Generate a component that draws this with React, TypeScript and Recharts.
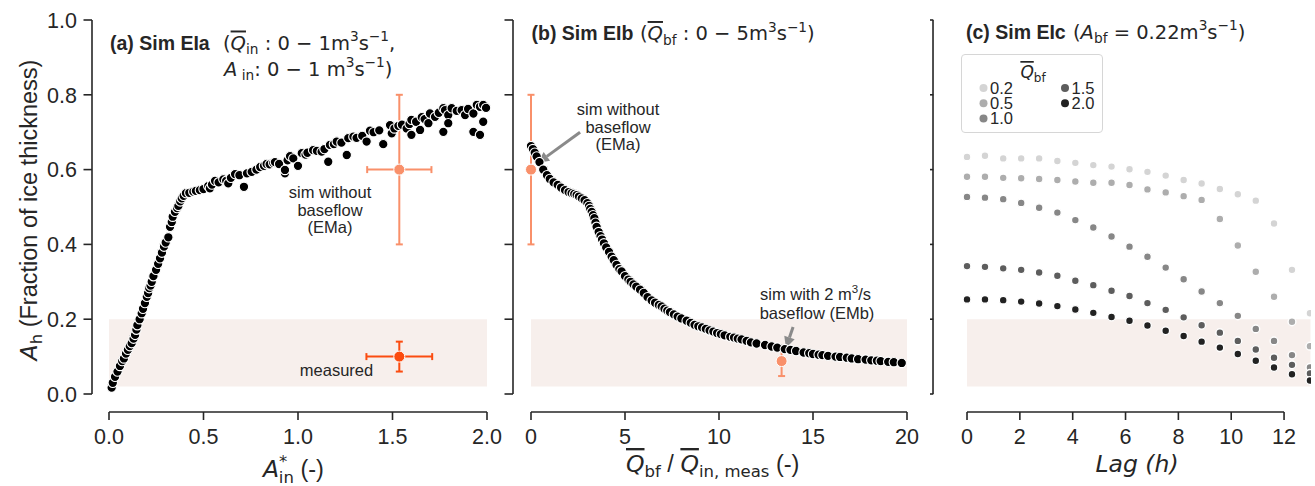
import React from 'react';
import {ScatterChart, Scatter, XAxis, YAxis, ReferenceArea, ReferenceLine, ErrorBar, Legend} from 'recharts';

const INK = '#262626';
const SANS = '"Liberation Sans", Arial, Helvetica, sans-serif';
const MATH = '"DejaVu Sans", sans-serif';
const BAND = '#f7efec';
const SALMON = '#f9906a';
const MEASURED = '#fb4c10';
const ARROW = '#8a8a8a';

const PLOT_TOP = 20;
const SPINE_Y = 412;
const X_AXIS_H = 92;

// shared y axis
const yTicks = [0, 0.2, 0.4, 0.6, 0.8, 1.0];
const spineYData = -18 / 374;

// (a) Sim EIa : A*_in vs A_h
const aTicks = [0, 0.5, 1.0, 1.5, 2.0];
const eiaCurve: [number, number][] = [
  [0.014, 0.017], [0.02, 0.03], [0.032, 0.046], [0.045, 0.06], [0.058, 0.075], [0.07, 0.088],
  [0.079, 0.095], [0.09, 0.108], [0.1, 0.118], [0.11, 0.128], [0.12, 0.136], [0.13, 0.148],
  [0.138, 0.158], [0.145, 0.172], [0.15, 0.184], [0.162, 0.2], [0.173, 0.216], [0.18, 0.228],
  [0.19, 0.243], [0.2, 0.26], [0.207, 0.27], [0.213, 0.283], [0.22, 0.29], [0.226, 0.3],
  [0.235, 0.315], [0.249, 0.332], [0.26, 0.348], [0.27, 0.363], [0.28, 0.378], [0.291, 0.394],
  [0.3, 0.405], [0.314, 0.419], [0.323, 0.447], [0.332, 0.46], [0.337, 0.474], [0.349, 0.487],
  [0.36, 0.497], [0.367, 0.503], [0.377, 0.515], [0.385, 0.523], [0.395, 0.53], [0.407, 0.537],
  [0.425, 0.538], [0.446, 0.541], [0.46, 0.543], [0.481, 0.545], [0.5, 0.548], [0.525, 0.556],
  [0.534, 0.55], [0.545, 0.56], [0.561, 0.57], [0.58, 0.566], [0.605, 0.574], [0.62, 0.57],
  [0.631, 0.563], [0.645, 0.578], [0.667, 0.588], [0.69, 0.585], [0.714, 0.554], [0.73, 0.59],
  [0.755, 0.594], [0.78, 0.6], [0.8, 0.607], [0.82, 0.61], [0.834, 0.615], [0.85, 0.614],
  [0.869, 0.618], [0.878, 0.62], [0.9, 0.615], [0.931, 0.59], [0.931, 0.599], [0.945, 0.625],
  [0.958, 0.636], [0.975, 0.63], [1.0, 0.61], [1.02, 0.644], [1.04, 0.64], [1.05, 0.645],
  [1.08, 0.652], [1.1, 0.65], [1.125, 0.648], [1.14, 0.655], [1.16, 0.621], [1.169, 0.666],
  [1.19, 0.668], [1.205, 0.675], [1.23, 0.672], [1.258, 0.639], [1.266, 0.684], [1.293, 0.688],
  [1.31, 0.685], [1.34, 0.69], [1.363, 0.675], [1.381, 0.704], [1.4, 0.7], [1.43, 0.705],
  [1.451, 0.668], [1.487, 0.719], [1.496, 0.697], [1.51, 0.71], [1.531, 0.717], [1.55, 0.72],
  [1.575, 0.71], [1.59, 0.722], [1.6, 0.733], [1.6, 0.693], [1.625, 0.728], [1.646, 0.706],
  [1.655, 0.74], [1.67, 0.735], [1.69, 0.724], [1.698, 0.75], [1.725, 0.741], [1.745, 0.752],
  [1.769, 0.764], [1.769, 0.701], [1.778, 0.759], [1.795, 0.746], [1.795, 0.724], [1.813, 0.764],
  [1.84, 0.757], [1.866, 0.759], [1.884, 0.746], [1.9, 0.762], [1.928, 0.75], [1.928, 0.701],
  [1.946, 0.773], [1.963, 0.768], [1.963, 0.693], [1.98, 0.728], [1.98, 0.773], [1.995, 0.765],
];
const emaInA = [{x: 1.536, y: 0.6, ex: 0.17, ey: 0.2}];
const measuredInA = [{x: 1.536, y: 0.1, ex: 0.174, ey: 0.04}];

// (b) Sim EIb : Qbf / Qin,meas vs A_h
const bTicks = [0, 5, 10, 15, 20];
const eibCurve: [number, number][] = [
  [0.0, 0.663], [0.1, 0.655], [0.2, 0.645], [0.3, 0.635], [0.45, 0.62], [0.65, 0.6],
  [0.85, 0.585], [1.0, 0.575], [1.2, 0.566], [1.42, 0.559], [1.6, 0.552], [1.81, 0.545],
  [2.0, 0.54], [2.16, 0.537], [2.3, 0.535], [2.43, 0.532], [2.55, 0.528], [2.7, 0.523],
  [2.85, 0.518], [3.0, 0.51], [3.09, 0.503], [3.15, 0.495], [3.23, 0.487], [3.3, 0.478],
  [3.37, 0.47], [3.43, 0.458], [3.49, 0.447], [3.6, 0.433], [3.7, 0.422], [3.78, 0.413],
  [3.88, 0.403], [4.0, 0.392], [4.15, 0.38], [4.29, 0.367], [4.4, 0.358], [4.55, 0.345],
  [4.7, 0.334], [4.82, 0.328], [5.0, 0.315], [5.18, 0.306], [5.3, 0.3], [5.45, 0.293],
  [5.6, 0.287], [5.8, 0.279], [6.0, 0.27], [6.2, 0.259], [6.42, 0.25], [6.6, 0.244],
  [6.8, 0.238], [6.95, 0.234], [7.1, 0.228], [7.25, 0.223], [7.39, 0.219], [7.6, 0.213],
  [7.8, 0.207], [8.0, 0.202], [8.28, 0.196], [8.5, 0.19], [8.7, 0.185], [8.9, 0.181],
  [9.1, 0.178], [9.3, 0.174], [9.5, 0.17], [9.7, 0.167], [9.9, 0.163], [10.1, 0.16],
  [10.3, 0.157], [10.6, 0.153], [10.8, 0.151], [11.0, 0.148], [11.2, 0.146], [11.47, 0.142],
  [11.7, 0.138], [12.0, 0.135], [12.45, 0.131], [12.8, 0.127], [13.1, 0.124], [13.5, 0.12],
  [13.8, 0.118], [14.1, 0.115], [14.5, 0.111], [14.8, 0.109], [15.0, 0.107], [15.3, 0.105],
  [15.5, 0.104], [15.8, 0.102], [16.2, 0.1], [16.44, 0.099], [16.8, 0.097], [17.06, 0.095],
  [17.4, 0.093], [17.8, 0.092], [18.1, 0.09], [18.4, 0.089], [18.6, 0.088], [19.0, 0.086],
  [19.3, 0.085], [19.72, 0.083],
];
const emaInB = [{x: 0, y: 0.6, ey: 0.2}];
const embInB = [{x: 13.33, y: 0.088, ey: 0.04}];

// (c) Sim EIc : lag vs A_h for several baseflows
const cTicks = [0, 2, 4, 6, 8, 10, 12];
const lagH = [0, 0.68, 1.37, 2.05, 2.73, 3.42, 4.1, 4.78, 5.47, 6.15, 6.83, 7.52, 8.2, 8.88, 9.57, 10.25, 10.93, 11.62, 12.3, 12.98];
const qbfLevels = ['0.2', '0.5', '1.0', '1.5', '2.0'];
const qbfColors = ['#d4d4d4', '#adadad', '#878787', '#5d5d5d', '#222222'];
const qbf02 = [0.634, 0.637, 0.63, 0.63, 0.63, 0.623, 0.618, 0.612, 0.608, 0.601, 0.594, 0.584, 0.572, 0.563, 0.548, 0.534, 0.517, 0.456, 0.332, 0.216];
const qbf05 = [0.581, 0.581, 0.578, 0.577, 0.575, 0.572, 0.568, 0.565, 0.565, 0.559, 0.547, 0.539, 0.529, 0.519, 0.468, 0.397, 0.327, 0.26, 0.193, 0.128];
const qbf10 = [0.527, 0.525, 0.521, 0.511, 0.498, 0.485, 0.465, 0.445, 0.421, 0.394, 0.367, 0.338, 0.307, 0.274, 0.243, 0.209, 0.174, 0.142, 0.104, 0.071];
const qbf15 = [0.342, 0.34, 0.336, 0.332, 0.325, 0.316, 0.303, 0.291, 0.276, 0.262, 0.243, 0.225, 0.205, 0.184, 0.164, 0.142, 0.119, 0.097, 0.078, 0.055];
const qbf20 = [0.253, 0.253, 0.251, 0.247, 0.242, 0.235, 0.226, 0.217, 0.206, 0.196, 0.183, 0.169, 0.155, 0.14, 0.124, 0.107, 0.089, 0.071, 0.053, 0.036];
const qbfSeries = [qbf02, qbf05, qbf10, qbf15, qbf20];

const toPts = (c: [number, number][]) => c.map(([x, y]) => ({x, y}));

const dot = (r: number, fill: string, sw: number) => (p: any) => (
  <circle cx={p.cx} cy={p.cy} r={r} fill={fill} stroke="#fff" strokeWidth={sw}/>
);

const xTick = (fmt: (v: number) => string) => (p: any) => (
  <g>
    <line x1={p.x} x2={p.x} y1={SPINE_Y} y2={SPINE_Y + 8} stroke={INK} strokeWidth={1.6}/>
    <text x={p.x} y={444} textAnchor="middle" fontSize={21.5} fontFamily={SANS} fill={INK}>
      {fmt(p.payload.value)}
    </text>
  </g>
);

const yTick = (spineX: number, labels: boolean) => (p: any) => (
  <g>
    <line x1={spineX - 8.5} x2={spineX} y1={p.y} y2={p.y} stroke={INK} strokeWidth={1.6}/>
    {labels && (
      <text x={spineX - 15} y={p.y} dy="0.36em" textAnchor="end" fontSize={21.5} fontFamily={SANS} fill={INK}>
        {p.payload.value.toFixed(1)}
      </text>
    )}
  </g>
);

const arrow = (p: any) => {
  const {x1, y1, x2, y2} = p;
  const dx = x2 - x1, dy = y2 - y1;
  const len = Math.hypot(dx, dy) || 1;
  const ux = dx / len, uy = dy / len;
  const hl = 11, hw = 5.5;
  const bx = x2 - ux * hl, by = y2 - uy * hl;
  return (
    <g>
      <line x1={x1} y1={y1} x2={bx} y2={by} stroke={ARROW} strokeWidth={3}/>
      <polygon points={`${x2},${y2} ${bx - uy * hw},${by + ux * hw} ${bx + uy * hw},${by - ux * hw}`} fill={ARROW}/>
    </g>
  );
};

const spineProps = {stroke: INK, strokeWidth: 1.6, ifOverflow: 'visible' as const};

function PanelA() {
  const ySpine = -17 / 189;
  return (
    <ScatterChart width={525} height={486} margin={{top: PLOT_TOP, right: 38, bottom: 0, left: 0}}>
      <XAxis type="number" dataKey="x" domain={[0, 2]} ticks={aTicks} interval={0} axisLine={false} tickLine={false}
             height={X_AXIS_H} tick={xTick((v) => v.toFixed(1))}/>
      <YAxis type="number" dataKey="y" domain={[0, 1]} ticks={yTicks} interval={0} axisLine={false} tickLine={false}
             width={109} tick={yTick(92, true)}/>
      <ReferenceArea x1={0} x2={2} y1={0.02} y2={0.2} fill={BAND} fillOpacity={1} stroke="none"/>
      <ReferenceLine segment={[{x: ySpine, y: 0}, {x: ySpine, y: 1}]} {...spineProps}/>
      <ReferenceLine segment={[{x: 0, y: spineYData}, {x: 2, y: spineYData}]} {...spineProps}/>
      <Scatter data={toPts(eiaCurve)} fill="#000" isAnimationActive={false} shape={dot(4.7, '#000', 1.1)}/>
      <Scatter data={emaInA} fill={SALMON} isAnimationActive={false} shape={dot(5.5, SALMON, 1)}>
        <ErrorBar dataKey="ex" direction="x" width={3.5} stroke={SALMON} strokeWidth={2}/>
        <ErrorBar dataKey="ey" direction="y" width={3.5} stroke={SALMON} strokeWidth={2}/>
      </Scatter>
      <Scatter data={measuredInA} fill={MEASURED} isAnimationActive={false} shape={dot(5.5, MEASURED, 1)}>
        <ErrorBar dataKey="ex" direction="x" width={3.5} stroke={MEASURED} strokeWidth={2}/>
        <ErrorBar dataKey="ey" direction="y" width={3.5} stroke={MEASURED} strokeWidth={2}/>
      </Scatter>
    </ScatterChart>
  );
}

function PanelB() {
  const ySpine = -18 / 18.8;
  return (
    <ScatterChart width={420} height={486} margin={{top: PLOT_TOP, right: 13, bottom: 0, left: 0}}>
      <XAxis type="number" dataKey="x" domain={[0, 20]} ticks={bTicks} interval={0} axisLine={false} tickLine={false}
             height={X_AXIS_H} tick={xTick((v) => String(v))}/>
      <YAxis type="number" dataKey="y" domain={[0, 1]} ticks={yTicks} interval={0} axisLine={false} tickLine={false}
             width={31} tick={yTick(13, false)}/>
      <ReferenceArea x1={0} x2={20} y1={0.02} y2={0.2} fill={BAND} fillOpacity={1} stroke="none"/>
      <ReferenceLine segment={[{x: ySpine, y: 0}, {x: ySpine, y: 1}]} {...spineProps}/>
      <ReferenceLine segment={[{x: 0, y: spineYData}, {x: 20, y: spineYData}]} {...spineProps}/>
      <Scatter data={toPts(eibCurve)} fill="#000" isAnimationActive={false} shape={dot(4.7, '#000', 1.1)}/>
      <Scatter data={emaInB} fill={SALMON} isAnimationActive={false} shape={dot(5.5, SALMON, 1)}>
        <ErrorBar dataKey="ey" direction="y" width={3.5} stroke={SALMON} strokeWidth={2}/>
      </Scatter>
      <Scatter data={embInB} fill={SALMON} isAnimationActive={false} shape={dot(5.5, SALMON, 1)}>
        <ErrorBar dataKey="ey" direction="y" width={3.5} stroke={SALMON} strokeWidth={2}/>
      </Scatter>
      <ReferenceLine segment={[{x: 2.61, y: 0.7}, {x: 0.37, y: 0.618}]} ifOverflow="visible" shape={arrow}/>
      <ReferenceLine segment={[{x: 13.94, y: 0.179}, {x: 13.56, y: 0.123}]} ifOverflow="visible" shape={arrow}/>
    </ScatterChart>
  );
}

const QbfLegend = ({payload}: any) => {
  const items = payload || [];
  return (
    <svg width={142} height={79} style={{display: 'block'}}>
      <rect x={0.5} y={0.5} width={141} height={78} rx={3.5} fill="#fff" stroke="#d6d6d6"/>
      <text x={72} y={24} textAnchor="middle" fontFamily={MATH} fontSize={17} fill={INK}>
        <tspan fontStyle="italic" style={{textDecoration: 'overline'}}>Q</tspan>
        <tspan fontSize={12} dy={4}>bf</tspan>
      </text>
      {items.map((it: any, i: number) => {
        const col = i < 3 ? 0 : 1;
        const row = i < 3 ? i : i - 3;
        const cx = col === 0 ? 22.5 : 104;
        const cy = 34 + row * 15.3;
        return (
          <g key={i}>
            <circle cx={cx} cy={cy} r={4} fill={it.color}/>
            <text x={cx + 6.5} y={cy + 5.5} fontFamily={SANS} fontSize={16.5} fill={INK}>{it.value}</text>
          </g>
        );
      })}
    </svg>
  );
};

function PanelC() {
  const ySpine = -34 / 26.42;
  return (
    <ScatterChart width={385} height={486} margin={{top: PLOT_TOP, right: 4, bottom: 0, left: 0}}>
      <XAxis type="number" dataKey="x" domain={[-0.644, 13.02]} allowDataOverflow ticks={cTicks} interval={0}
             axisLine={false} tickLine={false} height={X_AXIS_H} tick={xTick((v) => String(v))}/>
      <YAxis type="number" dataKey="y" domain={[0, 1]} ticks={yTicks} interval={0} axisLine={false} tickLine={false}
             width={20} tick={yTick(3.3, false)}/>
      <ReferenceArea x1={0} x2={13} y1={0.02} y2={0.2} fill={BAND} fillOpacity={1} stroke="none"/>
      <ReferenceLine segment={[{x: ySpine, y: 0}, {x: ySpine, y: 1}]} {...spineProps}/>
      <ReferenceLine segment={[{x: 0, y: spineYData}, {x: 12, y: spineYData}]} {...spineProps}/>
      {qbfSeries.map((vals, k) => (
        <Scatter key={qbfLevels[k]} name={qbfLevels[k]} data={lagH.map((x, i) => ({x, y: vals[i]}))}
                 fill={qbfColors[k]} isAnimationActive={false} shape={dot(3.9, qbfColors[k], 1.4)}/>
      ))}
      <Legend layout="vertical" align="center" verticalAlign="middle" content={(p: any) => <QbfLegend {...p}/>}
              wrapperStyle={{left: 31, top: 54, width: 142, height: 79}}/>
    </ScatterChart>
  );
}

function Overlay() {
  const t = {fontFamily: MATH, fontSize: 19.5, fill: INK};
  const s = 13.7;
  return (
    <svg width={1315} height={486} style={{position: 'absolute', left: 0, top: 0, pointerEvents: 'none'}}>
      {/* titles */}
      <text x={110} y={49.5} fontFamily={SANS} fontWeight="bold" fontSize={19.5} fill={INK}>(a) Sim EIa</text>
      <text x={223} y={49.5} {...t}>
        (<tspan fontStyle="italic" style={{textDecoration: 'overline'}}>Q</tspan>
        <tspan fontSize={s} dy={4.5}>in</tspan>
        <tspan dy={-4.5}> : 0 − 1m</tspan>
        <tspan fontSize={s} dy={-8.5}>3</tspan>
        <tspan dy={8.5}>s</tspan>
        <tspan fontSize={s} dy={-8.5}>−1</tspan>
        <tspan dy={8.5}>,</tspan>
      </text>
      <text x={224} y={75.5} {...t}>
        <tspan fontStyle="italic">A</tspan>
        <tspan fontSize={s} dy={4.5}> in</tspan>
        <tspan dy={-4.5}>: 0 − 1 m</tspan>
        <tspan fontSize={s} dy={-8.5}>3</tspan>
        <tspan dy={8.5}>s</tspan>
        <tspan fontSize={s} dy={-8.5}>−1</tspan>
        <tspan dy={8.5}>)</tspan>
      </text>
      <text x={531.5} y={40} fontFamily={SANS} fontWeight="bold" fontSize={19.5} fill={INK}>(b) Sim EIb</text>
      <text x={640} y={40} {...t}>
        (<tspan fontStyle="italic" style={{textDecoration: 'overline'}}>Q</tspan>
        <tspan fontSize={s} dy={4.5}>bf</tspan>
        <tspan dy={-4.5}> : 0 − 5m</tspan>
        <tspan fontSize={s} dy={-8.5}>3</tspan>
        <tspan dy={8.5}>s</tspan>
        <tspan fontSize={s} dy={-8.5}>−1</tspan>
        <tspan dy={8.5}>)</tspan>
      </text>
      <text x={966} y={38.5} fontFamily={SANS} fontWeight="bold" fontSize={19.5} fill={INK}>(c) Sim EIc</text>
      <text x={1073} y={38.5} {...t}>
        (<tspan fontStyle="italic">A</tspan>
        <tspan fontSize={s} dy={4.5}>bf</tspan>
        <tspan dy={-4.5}> = 0.22m</tspan>
        <tspan fontSize={s} dy={-8.5}>3</tspan>
        <tspan dy={8.5}>s</tspan>
        <tspan fontSize={s} dy={-8.5}>−1</tspan>
        <tspan dy={8.5}>)</tspan>
      </text>

      {/* annotations */}
      <g fontFamily={SANS} fontSize={16.5} fill={INK} textAnchor="middle">
        <text x={330} y={198}>sim without</text>
        <text x={330} y={216}>baseflow</text>
        <text x={330} y={233}>(EMa)</text>
        <text x={336.5} y={376}>measured</text>
        <text x={618} y={115}>sim without</text>
        <text x={618} y={133}>baseflow</text>
        <text x={618} y={150}>(EMa)</text>
        <text x={815.5} y={300}>sim with 2 m<tspan fontSize={11.5} dy={-7}>3</tspan><tspan dy={7}>/s</tspan></text>
        <text x={817} y={318.5}>baseflow (EMb)</text>
      </g>

      {/* axis labels */}
      <text transform="rotate(-90)" x={-210} y={37} textAnchor="middle" fontFamily={SANS} fontSize={23.5} fill={INK}>
        <tspan fontFamily={MATH} fontStyle="italic">A</tspan>
        <tspan fontFamily={MATH} fontSize={16.5} dy={5}>h</tspan>
        <tspan dy={-5}> (Fraction of ice thickness)</tspan>
      </text>
      <text x={263} y={477} fontFamily={MATH} fontSize={23.5} fill={INK}>
        <tspan fontStyle="italic">A</tspan>
        <tspan fontSize={16.5} dy={-10}>*</tspan>
        <tspan fontSize={16.5} dx={-8.5} dy={16}>in</tspan>
        <tspan fontFamily={SANS} dy={-6}> (-)</tspan>
      </text>
      <text x={626} y={472} fontFamily={MATH} fontSize={23.5} fill={INK}>
        <tspan fontStyle="italic" style={{textDecoration: 'overline'}}>Q</tspan>
        <tspan fontSize={16.5} dy={5}>bf</tspan>
        <tspan fontFamily={SANS} dy={-5}> / </tspan>
        <tspan fontStyle="italic" style={{textDecoration: 'overline'}}>Q</tspan>
        <tspan fontSize={16.5} dy={5}>in, meas</tspan>
        <tspan fontFamily={SANS} dy={-5}> (-)</tspan>
      </text>
      <text x={1137} y={472} textAnchor="middle" fontFamily={MATH} fontStyle="italic" fontSize={23.5} fill={INK}>
        Lag (h)
      </text>
    </svg>
  );
}

export default function App() {
  return (
    <div style={{position: 'absolute', left: 0, top: 0, width: 1315, height: 486, overflow: 'hidden', background: '#fff'}}>
      <div style={{position: 'absolute', left: 0, top: 0}}><PanelA/></div>
      <div style={{position: 'absolute', left: 500, top: 0}}><PanelB/></div>
      <div style={{position: 'absolute', left: 930, top: 0}}><PanelC/></div>
      <Overlay/>
    </div>
  );
}
